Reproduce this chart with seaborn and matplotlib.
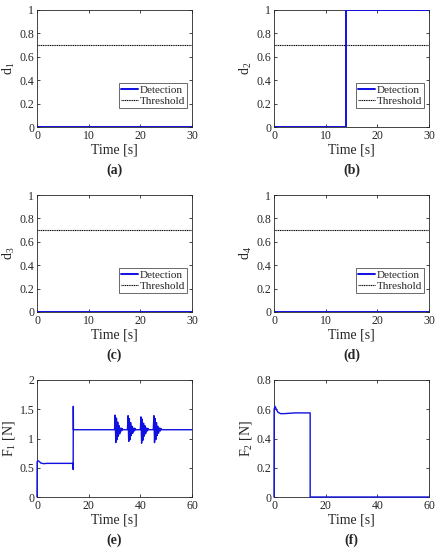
import numpy as np
import pandas as pd
import seaborn as sns
import matplotlib.pyplot as plt
from matplotlib.ticker import FuncFormatter

# Data
threshold = 0.7
d_time = [0, 30]
d1_vals = [0, 0]
d3_vals = [0, 0]
d4_vals = [0, 0]
d2_time = [0, 14, 14, 30]
d2_vals = [0, 0, 1, 1]

f1_time = [0, 0.05, 0.3, 0.8, 1.5, 2.5, 4, 8, 13.9, 14.0, 14.05, 14.1, 14.2, 30.0,
           30.25, 30.5, 30.75, 31.0, 31.25, 31.5, 31.75, 32.0, 32.25, 32.5, 32.75, 33.0, 33.25, 35.0,
           35.25, 35.5, 35.75, 36.0, 36.25, 36.5, 36.75, 37.0, 37.25, 37.5, 37.75, 38.0, 38.25, 40.0,
           40.25, 40.5, 40.75, 41.0, 41.25, 41.5, 41.75, 42.0, 42.25, 42.5, 42.75, 43.0, 43.25, 45.0,
           45.25, 45.5, 45.75, 46.0, 46.25, 46.5, 46.75, 47.0, 47.25, 47.5, 47.75, 48.0, 48.25, 60.0]
f1_vals = [0, 0.60, 0.62, 0.61, 0.58, 0.57, 0.575, 0.575, 0.575, 0.47, 1.55, 1.15, 1.15, 1.15,
           1.40, 0.93, 1.35, 0.98, 1.28, 1.04, 1.22, 1.08, 1.12, 1.18, 1.13, 1.17, 1.15, 1.15,
           1.39, 0.95, 1.34, 0.98, 1.27, 1.05, 1.21, 1.09, 1.12, 1.18, 1.13, 1.17, 1.15, 1.15,
           1.37, 0.92, 1.33, 0.97, 1.26, 1.04, 1.22, 1.08, 1.11, 1.18, 1.13, 1.17, 1.15, 1.15,
           1.39, 0.93, 1.34, 0.98, 1.27, 1.05, 1.21, 1.09, 1.12, 1.18, 1.13, 1.17, 1.15, 1.15]
f2_time = [0, 0.05, 0.4, 0.9, 1.5, 2.5, 4, 8, 14.0, 14.0, 60]
f2_vals = [0, 0.60, 0.62, 0.60, 0.58, 0.57, 0.57, 0.575, 0.575, 0, 0]

sns.set_theme(style="white")
plt.rcParams["font.family"] = ["Liberation Serif", "DejaVu Serif"]
plt.rcParams["mathtext.fontset"] = "custom"
plt.rcParams["mathtext.rm"] = "Liberation Serif"
plt.rcParams["mathtext.it"] = "Liberation Serif:italic"

BLUE = "#1010e0"
fmt = FuncFormatter(lambda v, p: f"{v:g}")

fig = plt.figure(figsize=(4.4, 5.5), dpi=100)
lefts = [37 / 440, 274 / 440]
bottoms = [1 - 127 / 550, 1 - 312 / 550, 1 - 497 / 550]
w, h = 155 / 440, 117 / 550


def style_ax(ax, xticks, yticks, ylabel):
    ax.set_xticks(xticks)
    ax.set_yticks(yticks)
    ax.set_xlim(xticks[0], xticks[-1])
    ax.set_ylim(yticks[0], yticks[-1])
    ax.xaxis.set_major_formatter(fmt)
    ax.yaxis.set_major_formatter(fmt)
    ax.tick_params(direction="in", length=2.5, width=0.6, labelsize=8.5,
                   top=True, right=True, bottom=True, left=True, pad=2, colors="#262626")
    for s in ax.spines.values():
        s.set_linewidth(0.6)
        s.set_color("#262626")
    ax.set_xlabel("Time [s]", fontsize=10, labelpad=1)
    ax.set_ylabel(ylabel, fontsize=10, labelpad=2)


d_series = [(d_time, d1_vals), (d2_time, d2_vals), (d_time, d3_vals), (d_time, d4_vals)]
captions = ["(a)", "(b)", "(c)", "(d)", "(e)", "(f)"]

for i, (tx, vals) in enumerate(d_series):
    ax = fig.add_axes([lefts[i % 2], bottoms[i // 2], w, h])
    df = pd.DataFrame({"t": tx, "v": vals})
    sns.lineplot(data=df, x="t", y="v", ax=ax, color=BLUE, lw=1.4,
                 estimator=None, sort=False, label="Detection", zorder=5)
    thr = pd.DataFrame({"t": [0, 30], "v": [threshold, threshold]})
    sns.lineplot(data=thr, x="t", y="v", ax=ax, color="black", lw=0.8,
                 linestyle=(0, (1, 0.6)), estimator=None, label="Threshold")
    style_ax(ax, [0, 10, 20, 30], [0, 0.2, 0.4, 0.6, 0.8, 1], f"d$_{i + 1}$")
    leg = ax.legend(loc="lower right", bbox_to_anchor=(0.97, 0.16), fontsize=8,
                    frameon=True, fancybox=False, borderpad=0.2, labelspacing=0.1,
                    handlelength=1.5, handletextpad=0.15, borderaxespad=0)
    leg.get_frame().set_edgecolor("#262626")
    leg.get_frame().set_linewidth(0.6)

f_series = [(f1_time, f1_vals, [0, 0.5, 1, 1.5, 2], "F$_1$ [N]"),
            (f2_time, f2_vals, [0, 0.2, 0.4, 0.6, 0.8], "F$_2$ [N]")]
for j, (tx, vals, yt, lab) in enumerate(f_series):
    ax = fig.add_axes([lefts[j], bottoms[2], w, h])
    df = pd.DataFrame({"t": tx, "v": vals})
    sns.lineplot(data=df, x="t", y="v", ax=ax, color=BLUE, lw=1.0,
                 estimator=None, sort=False, zorder=5)
    for ln in ax.lines:
        ln.set_clip_on(False)
    style_ax(ax, [0, 20, 40, 60], yt, lab)

for i, cap in enumerate(captions):
    cx = lefts[i % 2] + w / 2
    cy = bottoms[i // 2] - 43 / 550
    fig.text(cx, cy, cap, ha="center", va="center", fontsize=10, fontweight="bold")

fig.savefig("out.png", dpi=100)
